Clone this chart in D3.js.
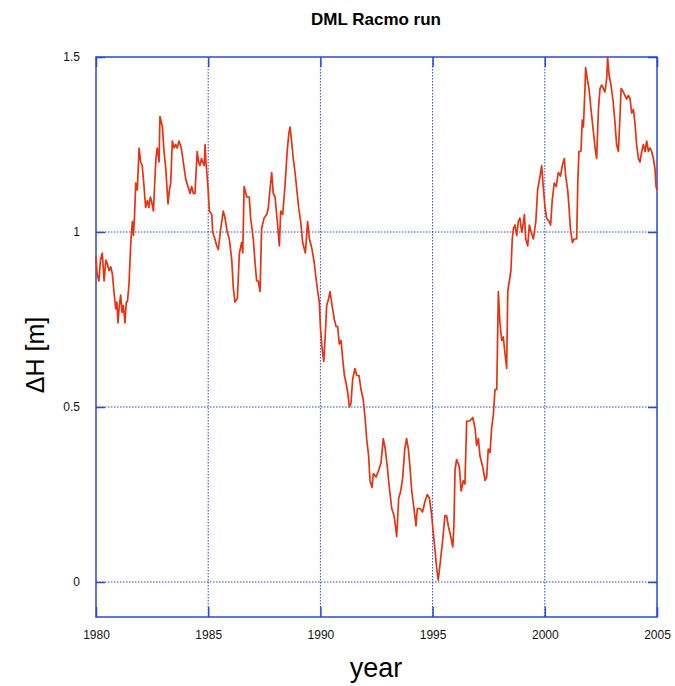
<!DOCTYPE html>
<html>
<head>
  <meta charset="utf-8">
  <title>DML Racmo run</title>
  <style>
    body { margin: 0; background: #fff; }
    text { font-family: "Liberation Sans", Arial, sans-serif; }
  </style>
  <script src="https://d3js.org/d3.v7.min.js"></script>
</head>
<body>
<svg width="675" height="686"></svg>
<script>
// values (year, metres)
var years = [1980.00,1980.05,1980.13,1980.20,1980.28,1980.36,1980.44,1980.50,1980.58,1980.66,1980.73,1980.80,1980.88,1980.93,1980.98,
  1981.04,1981.10,1981.16,1981.22,1981.29,1981.35,1981.40,1981.47,1981.55,1981.62,1981.67,1981.72,1981.77,1981.84,1981.92,1981.99,
  1982.06,1982.14,1982.21,1982.29,1982.36,1982.42,1982.47,1982.56,1982.61,1982.67,1982.73,1982.81,1982.85,1982.96,
  1983.03,1983.11,1983.21,1983.27,1983.33,1983.40,1983.48,1983.55,1983.62,1983.70,1983.80,1983.89,
  1984.00,1984.10,1984.19,1984.26,1984.34,1984.41,1984.51,1984.57,1984.63,1984.70,1984.75,1984.82,1984.86,1984.90,
  1985.00,1985.05,1985.16,1985.20,1985.30,1985.38,1985.45,1985.56,1985.67,1985.75,1985.85,1985.94,
  1986.05,1986.12,1986.19,1986.30,1986.39,1986.49,1986.54,1986.60,1986.72,1986.83,1986.89,
  1987.01,1987.09,1987.16,1987.23,1987.31,1987.38,1987.49,1987.61,1987.68,1987.75,1987.83,1987.90,1987.98,
  1988.08,1988.17,1988.23,1988.32,1988.42,1988.52,1988.59,1988.65,1988.73,1988.79,1988.87,1988.95,
  1989.03,1989.12,1989.21,1989.33,1989.43,1989.51,1989.63,1989.73,1989.80,1989.88,1989.95,
  1990.00,1990.07,1990.15,1990.22,1990.28,1990.37,1990.43,1990.52,1990.62,1990.70,1990.77,1990.84,1990.92,1990.99,
  1991.07,1991.14,1991.22,1991.29,1991.36,1991.44,1991.54,1991.62,1991.72,1991.81,1991.91,1991.99,
  1992.06,1992.15,1992.21,1992.30,1992.36,1992.48,1992.60,1992.70,1992.80,1992.89,1992.98,
  1993.07,1993.18,1993.28,1993.40,1993.49,1993.58,1993.67,1993.76,1993.84,1993.92,1993.99,
  1994.07,1994.17,1994.26,1994.32,1994.44,1994.55,1994.66,1994.76,1994.86,1994.96,
  1995.03,1995.11,1995.18,1995.25,1995.33,1995.45,1995.55,1995.62,1995.70,1995.81,1995.90,1995.95,
  1996.00,1996.07,1996.19,1996.27,1996.37,1996.44,1996.52,1996.65,1996.79,1996.89,1996.96,
  1997.04,1997.11,1997.23,1997.34,1997.41,1997.48,1997.56,1997.63,1997.71,1997.78,1997.86,1997.93,
  1998.00,1998.08,1998.15,1998.23,1998.30,1998.35,1998.42,1998.49,1998.55,1998.60,1998.67,1998.75,1998.82,1998.89,1998.97,
  1999.03,1999.09,1999.15,1999.24,1999.31,1999.39,1999.49,1999.60,1999.68,1999.79,1999.86,1999.93,
  2000.01,2000.08,2000.19,2000.26,2000.33,2000.42,2000.51,2000.60,2000.70,2000.78,2000.87,2000.93,
  2001.02,2001.08,2001.14,2001.23,2001.31,2001.42,2001.47,2001.52,2001.61,2001.67,2001.72,2001.79,2001.82,2001.91,2001.97,
  2002.06,2002.16,2002.24,2002.31,2002.39,2002.46,2002.54,2002.61,2002.68,2002.76,2002.80,2002.86,2002.95,
  2003.05,2003.13,2003.20,2003.28,2003.35,2003.40,2003.50,2003.57,2003.65,2003.72,2003.80,2003.87,2003.95,
  2004.02,2004.09,2004.17,2004.24,2004.32,2004.39,2004.47,2004.54,2004.62,2004.69,2004.76,2004.84,2004.91,2004.96,2005.00];

var dH = [0.93,0.88,0.86,0.92,0.94,0.86,0.92,0.91,0.89,0.90,0.88,0.83,0.78,0.80,0.74,
  0.79,0.82,0.77,0.79,0.74,0.80,0.80,0.85,0.97,1.03,0.99,1.05,1.14,1.12,1.24,1.20,
  1.19,1.13,1.07,1.09,1.07,1.10,1.09,1.06,1.13,1.21,1.24,1.20,1.33,1.30,
  1.23,1.18,1.08,1.12,1.14,1.26,1.24,1.25,1.24,1.26,1.24,1.20,
  1.15,1.13,1.11,1.13,1.11,1.11,1.23,1.20,1.19,1.21,1.20,1.19,1.25,1.20,
  1.12,1.06,1.05,1.00,0.98,0.96,0.95,1.01,1.06,1.04,1.00,0.98,
  0.92,0.84,0.80,0.81,0.94,0.97,0.94,1.13,1.10,1.10,1.04,
  0.98,0.91,0.86,0.86,0.83,1.01,1.04,1.05,1.07,1.12,1.17,1.11,1.10,
  1.03,0.96,1.06,1.05,1.13,1.23,1.28,1.30,1.25,1.21,1.17,1.12,
  1.07,1.03,0.97,0.94,1.03,0.98,0.95,0.91,0.87,0.83,0.80,
  0.73,0.67,0.63,0.71,0.79,0.81,0.83,0.79,0.75,0.73,0.73,0.68,0.69,0.64,
  0.59,0.57,0.54,0.50,0.51,0.58,0.61,0.59,0.59,0.55,0.52,0.47,
  0.41,0.36,0.29,0.27,0.31,0.30,0.32,0.34,0.41,0.38,0.33,
  0.27,0.21,0.19,0.13,0.24,0.26,0.30,0.38,0.41,0.38,0.33,
  0.26,0.21,0.16,0.21,0.21,0.20,0.23,0.25,0.24,0.19,
  0.14,0.09,0.04,0.005,0.05,0.12,0.19,0.19,0.16,0.13,0.10,0.16,
  0.32,0.35,0.33,0.26,0.29,0.28,0.46,0.46,0.47,0.44,0.39,
  0.41,0.36,0.33,0.29,0.30,0.38,0.37,0.44,0.48,0.55,0.55,0.83,
  0.74,0.69,0.70,0.65,0.61,0.83,0.86,0.89,0.98,1.01,1.02,0.99,1.03,1.04,1.00,
  1.02,1.05,0.98,0.96,1.02,1.00,0.98,1.03,1.12,1.16,1.19,1.13,
  1.07,1.04,1.03,1.02,1.09,1.14,1.13,1.17,1.16,1.19,1.21,1.16,
  1.12,1.07,1.01,0.97,0.98,0.98,1.14,1.23,1.23,1.32,1.30,1.41,1.47,1.43,1.41,
  1.35,1.29,1.24,1.21,1.35,1.41,1.42,1.41,1.40,1.44,1.50,1.45,1.42,
  1.37,1.31,1.25,1.23,1.33,1.41,1.40,1.39,1.38,1.39,1.38,1.34,1.35,
  1.31,1.25,1.21,1.20,1.23,1.25,1.23,1.26,1.23,1.24,1.23,1.21,1.18,1.13,1.12];

var xTicks = [1980, 1985, 1990, 1995, 2000, 2005];
var yTicks = [0, 0.5, 1, 1.5];

var svg = d3.select("svg"),
    marginLeft = 96, marginTop = 57,
    width = 561, height = 560,
    blue = "#2a46e6";

var x = d3.scaleLinear().domain([1980, 2005]).range([0, width]),
    y = d3.scaleLinear().domain([-0.1, 1.5]).range([height, 0]);

var g = svg.append("g").attr("transform", "translate(" + marginLeft + "," + marginTop + ")");

// dotted grid
g.selectAll(".vgrid").data(xTicks.slice(1, -1)).enter().append("line")
  .attr("x1", function(d) { return x(d); }).attr("x2", function(d) { return x(d); })
  .attr("y1", 0).attr("y2", height)
  .attr("stroke", blue).attr("stroke-width", 1).attr("stroke-dasharray", "1.5,1.5");
g.selectAll(".hgrid").data(yTicks.slice(0, -1)).enter().append("line")
  .attr("y1", function(d) { return y(d); }).attr("y2", function(d) { return y(d); })
  .attr("x1", 0).attr("x2", width)
  .attr("stroke", blue).attr("stroke-width", 1).attr("stroke-dasharray", "1.5,1.5");

// axes: ticks inward on all four sides
g.append("g").attr("transform", "translate(0," + height + ")")
  .call(d3.axisBottom(x).tickValues(xTicks).tickFormat(d3.format("d")).tickSizeInner(-10).tickSizeOuter(0).tickPadding(13));
g.append("g")
  .call(d3.axisTop(x).tickValues(xTicks).tickFormat("").tickSizeInner(-10).tickSizeOuter(0));
g.append("g")
  .call(d3.axisLeft(y).tickValues(yTicks).tickFormat(function(d) { return String(d); }).tickSizeInner(-9).tickSizeOuter(0).tickPadding(16));
g.append("g").attr("transform", "translate(" + width + ",0)")
  .call(d3.axisRight(y).tickValues(yTicks).tickFormat("").tickSizeInner(-9).tickSizeOuter(0));

g.selectAll(".domain").remove();
g.selectAll(".tick line").attr("stroke", blue).attr("stroke-width", 1.5);
g.selectAll(".tick text").attr("font-size", "12px").attr("fill", "#111");

g.append("rect")
  .attr("width", width).attr("height", height)
  .attr("fill", "none").attr("stroke", blue).attr("stroke-width", 1.5);

// the series
var pts = years.map(function(d, i) { return [d, dH[i]]; });
g.append("path")
  .datum(pts)
  .attr("fill", "none")
  .attr("stroke", "#e93210")
  .attr("stroke-width", 1.7)
  .attr("stroke-linejoin", "round")
  .attr("d", d3.line().x(function(d) { return x(d[0]); }).y(function(d) { return y(d[1]); }));

// labels
svg.append("text")
  .attr("x", 376).attr("y", 25)
  .attr("text-anchor", "middle")
  .attr("font-size", "17px").attr("font-weight", "bold")
  .text("DML Racmo run");

svg.append("text")
  .attr("x", 376).attr("y", 677)
  .attr("text-anchor", "middle")
  .attr("font-size", "27px")
  .text("year");

svg.append("text")
  .attr("transform", "translate(44,355) rotate(-90)")
  .attr("text-anchor", "middle")
  .attr("font-size", "25px")
  .text("ΔH [m]");
</script>
</body>
</html>
